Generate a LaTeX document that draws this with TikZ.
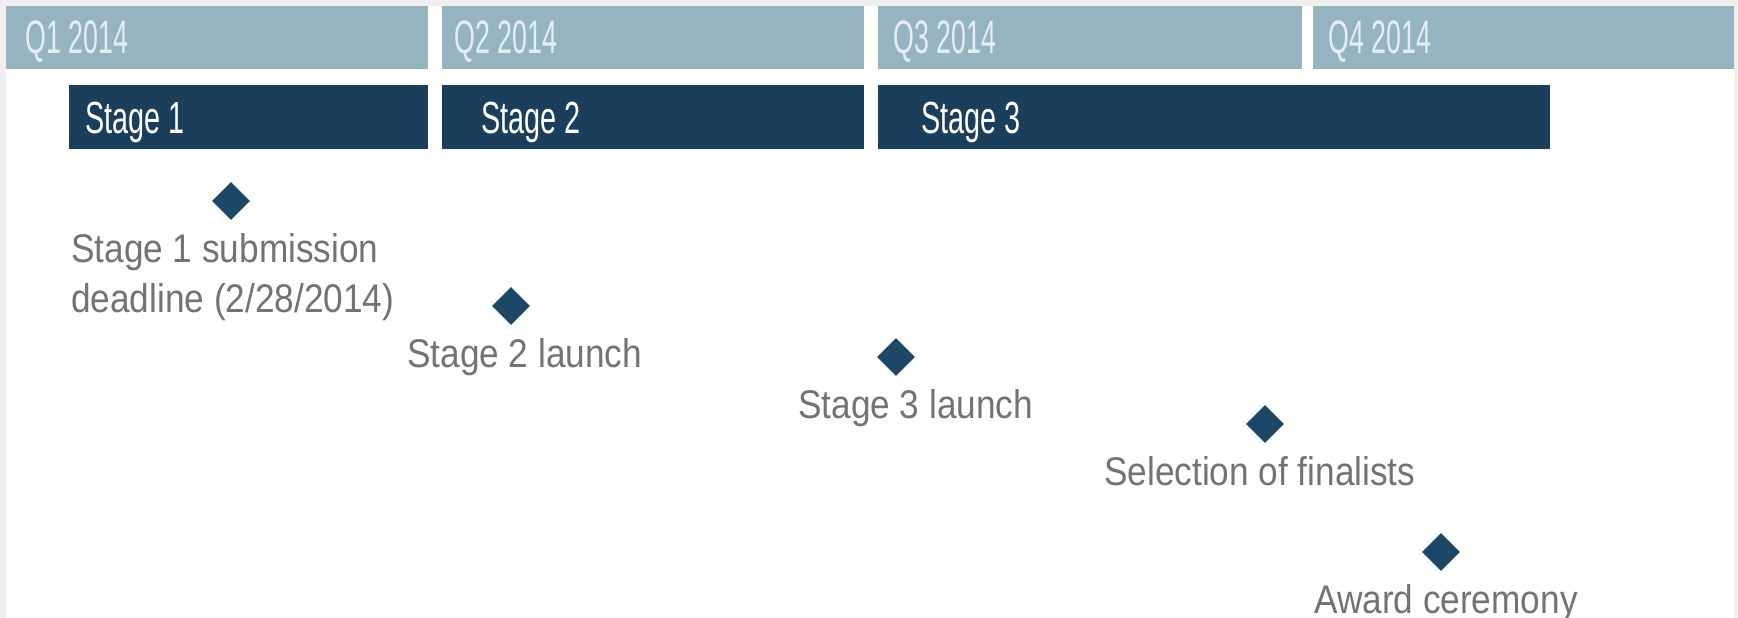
\documentclass[tikz,border=0pt]{standalone}
\usepackage{fontspec}
\setmainfont{Liberation Sans}
\newfontfamily\qfont[FakeStretch=0.57]{Liberation Sans}
\newfontfamily\stfont[FakeStretch=0.64]{Liberation Sans}
\newfontfamily\lbfont[FakeStretch=0.88]{Liberation Sans}
\usetikzlibrary{shapes.geometric}
\definecolor{bggray}{HTML}{EFEFEF}
\definecolor{qbar}{HTML}{96B4C0}
\definecolor{qtext}{HTML}{E4EDF1}
\definecolor{sbar}{HTML}{1B3F5A}
\definecolor{dmd}{HTML}{1C4766}
\definecolor{lbl}{HTML}{737373}
\begin{document}
\begin{tikzpicture}[x=1pt,y=-1pt,
  qlabel/.style={anchor=base west,inner sep=0pt,text=qtext,font=\qfont\fontsize{47}{50}\selectfont},
  slabel/.style={anchor=base west,inner sep=0pt,text=white,font=\stfont\fontsize{45}{48}\selectfont},
  mlabel/.style={anchor=base west,inner sep=0pt,text=lbl,font=\lbfont\fontsize{40}{44}\selectfont},
  milestone/.style={shape=diamond,aspect=1,fill=dmd,draw=none,inner sep=0pt,minimum width=38pt,minimum height=38pt}]
\fill[bggray] (0,0) rectangle (1738,618);
\useasboundingbox (0,0) rectangle (1738,618);
\fill[white] (6,6) rectangle (1734,618);
% quarter bars
\fill[qbar] (6,6) rectangle (428,69);
\fill[qbar] (442,6) rectangle (864,69);
\fill[qbar] (878,6) rectangle (1302,69);
\fill[qbar] (1313,6) rectangle (1734,69);
\node[qlabel] (q1) at (25,54) {Q1 2014};
\node[qlabel] (q2) at (454,54) {Q2 2014};
\node[qlabel] (q3) at (893,54) {Q3 2014};
\node[qlabel] (q4) at (1328,54) {Q4 2014};
% stage bars
\fill[sbar] (69,85) rectangle (428,149);
\fill[sbar] (442,85) rectangle (864,149);
\fill[sbar] (878,85) rectangle (1550,149);
\node[slabel] (s1) at (85,133) {Stage 1};
\node[slabel] (s2) at (481,133) {Stage 2};
\node[slabel] (s3) at (921,133) {Stage 3};
% milestones
\node[milestone] (d1) at (231,201) {};
\node[milestone] (d2) at (511,306) {};
\node[milestone] (d3) at (896,357) {};
\node[milestone] (d4) at (1265,424) {};
\node[milestone] (d5) at (1441,552) {};
\node[mlabel] (l1a) at (71,262) {Stage 1 submission};
\node[mlabel] (l1b) at (71,312) {deadline (2/28/2014)};
\node[mlabel] (l2) at (407,367) {Stage 2 launch};
\node[mlabel] (l3) at (798,418) {Stage 3 launch};
\node[mlabel] (l4) at (1104,485) {Selection of finalists};
\node[mlabel] (l5) at (1314,613) {Award ceremony};
\end{tikzpicture}
\end{document}
